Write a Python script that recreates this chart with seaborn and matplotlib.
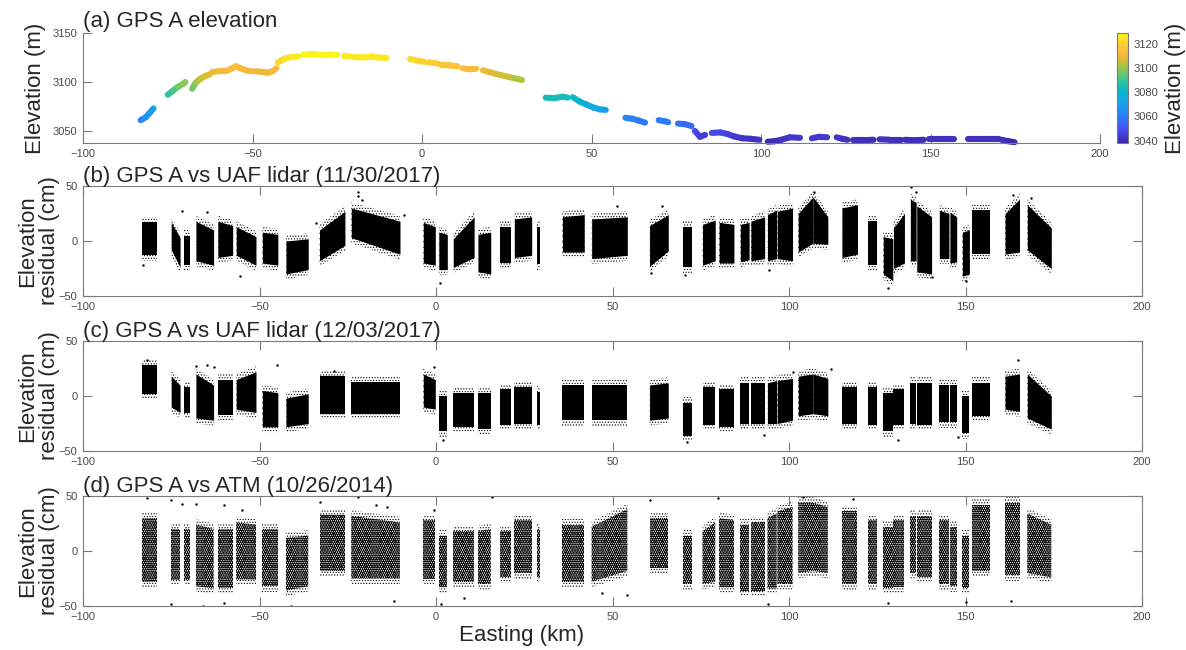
import numpy as np
import pandas as pd
import seaborn as sns
import matplotlib
matplotlib.use("Agg")
import matplotlib.pyplot as plt
from matplotlib.collections import LineCollection
from matplotlib.colors import LinearSegmentedColormap, Normalize

# %% --------------------------------------------------------------------
# Data

# (a) GPS A track elevation, one list per dash (easting km, elevation m)
track_x = [
    [-83, -81.5, -80.2, -79.2],
    [-75, -73.5, -72, -70.5, -69.8],
    [-67.8, -66.8, -65.5, -64, -62.5],
    [-62, -60, -58, -56.5, -55, -53.5, -52, -50.5],
    [-49.5, -47.5, -45.5, -44, -43],
    [-42.5, -40.5, -38.5, -36.5],
    [-35, -32, -29, -27, -25],
    [-23, -20, -17, -15, -13, -10.5],
    [-3.5, -1, 0.8],
    [2, 4.5],
    [5.5, 8, 10.5],
    [12, 14, 16],
    [18, 20, 22, 24.5],
    [25, 27, 29.5],
    [36.5, 39, 41.5, 43],
    [44.5, 46.5, 48.5, 50.5, 52.5, 54.2],
    [60, 62, 64, 65.8],
    [69.8, 71.5, 72.6],
    [75.5, 77.5, 79.5],
    [80.5, 82, 83.5],
    [85.5, 88, 90, 92, 94.5, 97, 99.5],
    [102, 104, 106, 108.5, 111.5],
    [115, 117, 119.5],
    [122.3, 124, 125.5],
    [127, 130, 133.2],
    [135, 138, 141.2],
    [142.5, 145, 148],
    [149.5, 153, 157],
    [161.2, 165, 168, 170.3],
    [171, 173, 174.8],
]
track_z = [
    [3061, 3064, 3069, 3073],
    [3087, 3091, 3095, 3098, 3100],
    [3093, 3099, 3103, 3106, 3108],
    [3110, 3111, 3111, 3113, 3116, 3114, 3112, 3111],
    [3111, 3110.5, 3109.5, 3111, 3114],
    [3120, 3124, 3125.5, 3126],
    [3128, 3128.5, 3127.5, 3128, 3127.5],
    [3126.5, 3125.5, 3125, 3126, 3125, 3124.5],
    [3123.5, 3121.5, 3120.5],
    [3120, 3119],
    [3117.5, 3117, 3116],
    [3114, 3113, 3113.5],
    [3112, 3110, 3108, 3106],
    [3105.5, 3104, 3102],
    [3084, 3083.5, 3085, 3084],
    [3084.5, 3080, 3077, 3074, 3072, 3071.5],
    [3063.5, 3062.5, 3060.5, 3058.5],
    [3061, 3060, 3059],
    [3057.5, 3057, 3055],
    [3050, 3044, 3046],
    [3048, 3048.5, 3047, 3044.5, 3042.5, 3042, 3041],
    [3039, 3039.5, 3041, 3043.5, 3043],
    [3042.5, 3044, 3043.5],
    [3043.5, 3042, 3041],
    [3040.5, 3040.5, 3041],
    [3041.5, 3041, 3041],
    [3041, 3040.5, 3041],
    [3041.5, 3041.5, 3041.5],
    [3041.5, 3041.5, 3041.5, 3041.5],
    [3041, 3039.5, 3038.5],
]

# residual segments along the track (easting km)
seg_x0 = [-83.2, -75.0, -71.3, -68.0, -61.8, -56.6, -49.2, -42.5, -33.0, -24.0,
          -3.6, 0.8, 4.9, 11.9, 18.2, 22.2, 28.6, 35.8, 44.1, 60.5,
          70.1, 75.5, 80.2, 86.2, 89.2, 93.9, 96.7, 102.6, 106.8, 115.0,
          122.3, 126.7, 129.6, 134.4, 136.2, 142.6, 145.6, 149.1, 151.9, 161.2,
          167.5]
seg_x1 = [-79.0, -72.5, -69.8, -63.0, -57.6, -51.0, -44.8, -36.2, -25.8, -10.2,
          -0.2, 3.2, 10.8, 15.5, 21.2, 27.1, 29.6, 42.0, 54.2, 65.8,
          72.5, 79.1, 84.4, 88.7, 93.1, 96.5, 101.0, 106.8, 111.0, 119.4,
          125.0, 129.4, 132.7, 136.0, 140.4, 145.3, 147.5, 151.1, 156.8, 165.3,
          174.3]

# (b) UAF lidar 11/30/2017: bulk of residuals (cm) at segment start / end
b_lo0 = [-13, -8, -22, -18, -15, -13, -20, -30, -18, 3, -20, -26, -24, -28, -20, -15, -21, -10, -16, -23,
         -24, -22, -20, -19, -18, -18, -16, -10, -2, -15, -22, -30, -25, -18, -28, -16, -20, -32, -12, -12, -8]
b_hi0 = [17, 17, 5, 18, 18, 13, 8, 0, 10, 30, 17, 8, 2, 6, 13, 20, 13, 22, 20, 14,
         13, 15, 17, 15, 18, 24, 27, 25, 40, 30, 18, 4, 12, 38, 32, 28, 26, 8, 28, 25, 33]
b_lo1 = [-13, -24, -22, -22, -13, -22, -22, -26, -4, -12, -22, -26, -15, -30, -20, -13, -21, -10, -13, -9,
         -24, -18, -20, -17, -16, -16, -18, -2, -3, -12, -22, -36, -20, -18, -30, -16, -19, -30, -12, -10, -25]
b_hi1 = [17, 3, 5, 10, 14, 4, 6, 2, 27, 18, 13, 6, 22, 8, 13, 22, 13, 24, 22, 24,
         13, 19, 15, 17, 22, 28, 30, 40, 22, 33, 18, 2, 25, 35, 22, 25, 22, 10, 28, 38, 12]
b_out_x = [-22, -22, -21, 1.2, -55.5, -72, -65, -83, 107, 134.5, 136, 128, 163.5, 168.6, 64, 51.2,
           60.8, 70.4, 94.4, 140.4, 150.2, -34, -9]
b_out_y = [45, 41, 37, -38, -32, 27, 26, -22, 45, 49, 45, -43, 42, 39, 32, 32,
           -29, -31, -26, -33, -36, 16, 24]

# (c) UAF lidar 12/03/2017
c_lo0 = [2, -10, -15, -20, -17, -12, -28, -28, -16, -16, -10, -32, -28, -30, -26, -25, -26, -22, -22, -22,
         -36, -26, -28, -25, -25, -25, -25, -18, -16, -25, -26, -32, -26, -25, -26, -24, -24, -34, -18, -12, -20]
c_hi0 = [28, 18, 8, 20, 15, 15, 5, -2, 18, 13, 20, 0, 3, 3, 6, 8, 4, 10, 10, 10,
         -6, 8, 6, 12, 12, 12, 14, 18, 20, 8, 8, 3, 6, 12, 12, 10, 10, 0, 12, 18, 20]
c_lo1 = [2, -15, -15, -22, -17, -15, -28, -25, -16, -16, -12, -32, -28, -30, -26, -25, -26, -22, -22, -20,
         -36, -26, -28, -25, -25, -25, -22, -16, -18, -25, -26, -32, -26, -25, -26, -24, -24, -34, -18, -14, -30]
c_hi1 = [28, 10, 8, 10, 15, 22, 3, 2, 18, 13, 15, 0, 3, 3, 6, 8, 4, 10, 10, 12,
         -6, 8, 6, 12, 12, 14, 16, 20, 16, 8, 8, 3, 6, 12, 12, 10, 10, 0, 12, 20, 0]
c_out_x = [-82, -65, -63, -29, -0.5, 71, 131, 165, 148, 93, 112, -45, 101, -68, 2]
c_out_y = [33, 28, 26, 23, 26, -42, -40, 33, -37, -35, 25, 28, 22, 27, -40]

# (d) ATM 10/26/2014
d_lo0 = [-28, -26, -26, -32, -34, -26, -32, -36, -18, -25, -25, -33, -28, -30, -24, -20, -24, -28, -28, -15,
         -30, -30, -33, -36, -36, -34, -30, -20, -18, -30, -30, -34, -33, -20, -24, -30, -32, -34, -18, -22, -20]
d_hi0 = [30, 20, 20, 24, 20, 26, 20, 12, 33, 32, 28, 14, 18, 18, 18, 28, 20, 24, 22, 30,
         14, 18, 30, 24, 26, 30, 36, 44, 44, 36, 28, 22, 28, 32, 32, 28, 22, 14, 42, 44, 34]
d_lo1 = [-28, -26, -26, -34, -34, -26, -32, -32, -18, -25, -25, -33, -28, -30, -24, -20, -24, -28, -18, -15,
         -30, -28, -33, -36, -36, -34, -30, -18, -20, -30, -30, -34, -33, -20, -24, -30, -32, -34, -18, -22, -24]
d_hi1 = [30, 20, 20, 20, 20, 24, 20, 14, 33, 26, 28, 14, 18, 20, 18, 28, 20, 24, 38, 30,
         14, 26, 28, 24, 26, 34, 40, 44, 40, 36, 28, 22, 28, 32, 32, 28, 22, 14, 42, 44, 24]
d_out_x = [-82, -75, -72, -68, -60, -55, -33, -22, -17, -14, -0.5, 16, -75, -66, -60, -41, -12, 1.5,
           8, 60.5, 54, 94, 128, 80, 104, 150, 163, 118, 47]
d_out_y = [48, 46, 43, 43, 42, 37, 45, 49, 42, 40, 37, 49, -48, -50, -47, -50, -45, -48,
           -43, 46, -40, -48, -47, 48, 49, -46, -45, 47, -38]

x_ticks = [-100, -50, 0, 50, 100, 150, 200]
elev_ticks = [3050, 3100, 3150]
cbar_ticks = [3040, 3060, 3080, 3100, 3120]
res_ticks = [-50, 0, 50]

titles = ["(a) GPS A elevation",
          "(b) GPS A vs UAF lidar (11/30/2017)",
          "(c) GPS A vs UAF lidar (12/03/2017)",
          "(d) GPS A vs ATM (10/26/2014)"]

# %% --------------------------------------------------------------------
# Style

sns.set_theme(style="white")
plt.rcParams["font.family"] = ["Liberation Sans", "DejaVu Sans"]

# parula-like colour map
parula = LinearSegmentedColormap.from_list("parula", [
    (0.00, (0.24, 0.15, 0.66)), (0.12, (0.28, 0.30, 0.95)), (0.25, (0.17, 0.50, 0.98)),
    (0.38, (0.08, 0.65, 0.90)), (0.47, (0.03, 0.72, 0.80)), (0.57, (0.20, 0.77, 0.60)),
    (0.66, (0.50, 0.79, 0.35)), (0.74, (0.80, 0.75, 0.20)), (0.82, (0.99, 0.72, 0.24)),
    (0.91, (0.98, 0.82, 0.19)), (1.00, (0.98, 0.98, 0.08))])

AX_COL = "#7a7a7a"
TXT_COL = "#4a4a4a"
W, H = 1186, 650
FRINGE = 5  # cm of scattered points drawn around each segment's bulk

fig = plt.figure(figsize=(W / 100, H / 100), dpi=100)


def frac(left, top, right, bottom):
    return [left / W, 1 - bottom / H, (right - left) / W, (bottom - top) / H]


def style_axes(ax, box):
    for name, sp in ax.spines.items():
        sp.set_color(AX_COL)
        sp.set_linewidth(0.8)
        sp.set_visible(box or name in ("left", "bottom"))
    ax.tick_params(direction="in", length=6.5, width=0.8, color=AX_COL,
                   labelsize=8, labelcolor=TXT_COL, pad=4,
                   bottom=True, left=True, top=box, right=box)
    ax.set_xlim(-100, 200)
    ax.set_xticks(x_ticks)


# %% --------------------------------------------------------------------
# (a) elevation track

ax_a = fig.add_axes(frac(83, 33, 1100, 143))
norm = Normalize(3038, 3129)
for xs, zs in zip(track_x, track_z):
    pts = np.column_stack([xs, zs])
    segs = np.stack([pts[:-1], pts[1:]], axis=1)
    lc = LineCollection(segs, cmap=parula, norm=norm, linewidths=4.4,
                        capstyle="round", joinstyle="round", clip_on=False)
    lc.set_array((np.array(zs[:-1]) + np.array(zs[1:])) / 2)
    ax_a.add_collection(lc)
style_axes(ax_a, box=False)
ax_a.set_ylim(3037.7, 3150)
ax_a.set_yticks(elev_ticks)
ax_a.set_title(titles[0], loc="left", fontsize=16, pad=4)
fig.text(35 / W, 1 - 88 / H, "Elevation (m)", rotation=90, fontsize=16,
         ha="center", va="center")

cax = fig.add_axes(frac(1117, 33, 1128, 143))
cb = fig.colorbar(plt.cm.ScalarMappable(norm=norm, cmap=parula), cax=cax, ticks=cbar_ticks)
cb.outline.set_edgecolor(AX_COL)
cb.outline.set_linewidth(0.8)
cax.tick_params(labelsize=8, labelcolor=TXT_COL, length=2, color=AX_COL,
                direction="in", pad=4, right=True)
cb.set_label("Elevation (m)", fontsize=16, labelpad=5)

# %% --------------------------------------------------------------------
# (b)-(d) residual panels

panels = [
    (b_lo0, b_hi0, b_lo1, b_hi1, b_out_x, b_out_y, False),
    (c_lo0, c_hi0, c_lo1, c_hi1, c_out_x, c_out_y, False),
    (d_lo0, d_hi0, d_lo1, d_hi1, d_out_x, d_out_y, True),
]
tops = [186, 341, 496]
for k, (lo0, hi0, lo1, hi1, ox, oy, sparse) in enumerate(panels):
    top = tops[k]
    ax = fig.add_axes(frac(83, top, 1142, top + 110))
    for j in range(len(seg_x0)):
        xs = [seg_x0[j], seg_x1[j]]
        lo = np.array([lo0[j], lo1[j]])
        hi = np.array([hi0[j], hi1[j]])
        with plt.rc_context({"hatch.linewidth": 0.5}):
            ax.fill_between(xs, lo - FRINGE, hi + FRINGE, facecolor="none",
                            edgecolor="black", hatch="......", linewidth=0)
        if sparse:
            with plt.rc_context({"hatch.linewidth": 1.5}):
                ax.fill_between(xs, lo, hi, facecolor="none",
                                edgecolor="black", hatch="........", linewidth=0)
        else:
            ax.fill_between(xs, lo, hi, color="black", linewidth=0)
    out = pd.DataFrame({"x": ox, "y": oy})
    sns.scatterplot(data=out, x="x", y="y", ax=ax, s=3, color="black",
                    linewidth=0, legend=False)
    style_axes(ax, box=True)
    ax.set_ylim(-50, 50)
    ax.set_yticks(res_ticks)
    ax.set_xlabel("")
    ax.set_ylabel("")
    ax.set_title(titles[k + 1], loc="left", fontsize=16, pad=3)
    fig.text(39 / W, 1 - (top + 55) / H, "Elevation\nresidual (cm)", rotation=90,
             fontsize=16, ha="center", va="center", linespacing=1.05)

fig.text(522 / W, 1 - 635 / H, "Easting (km)", fontsize=16, ha="center", va="center")

fig.savefig("out.png", dpi=100)
